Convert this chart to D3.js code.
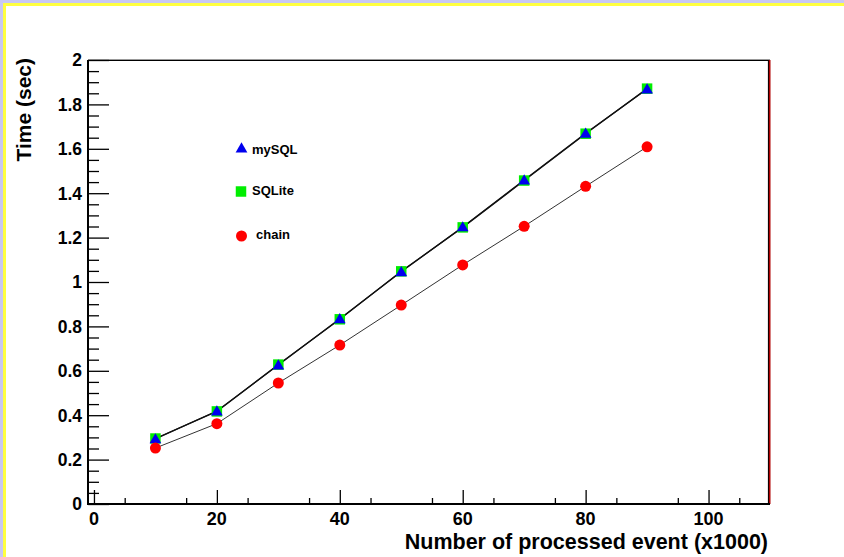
<!DOCTYPE html>
<html>
<head>
<meta charset="utf-8">
<script src="https://cdn.jsdelivr.net/npm/d3@7"></script>
<style>
html,body{margin:0;padding:0;background:#fff;}
svg{display:block;}
text{font-family:"Liberation Sans",Arial,Helvetica,sans-serif;font-weight:bold;fill:#000;}
</style>
</head>
<body>
<svg id="chart" width="844" height="557"></svg>
<script>
// ---- data ----
const events = [10, 20, 30, 40, 50, 60, 70, 80, 90];
const mysqlTimes  = [0.293, 0.419, 0.626, 0.834, 1.046, 1.248, 1.459, 1.670, 1.869];
const sqliteTimes = [0.295, 0.417, 0.628, 0.832, 1.048, 1.246, 1.457, 1.668, 1.871];
const chainTimes  = [0.252, 0.362, 0.545, 0.716, 0.896, 1.077, 1.251, 1.431, 1.609];
const seriesNames = ["mySQL", "SQLite", "chain"];
const xMajorTicks = [0, 20, 40, 60, 80, 100];
const xTickLabels = ["0", "20", "40", "60", "80", "100"];
const yMajorTicks = [0, 0.2, 0.4, 0.6, 0.8, 1, 1.2, 1.4, 1.6, 1.8, 2];
const yTickLabels = ["0", "0.2", "0.4", "0.6", "0.8", "1", "1.2", "1.4", "1.6", "1.8", "2"];
const xTitle = "Number of processed event (x1000)";
const yTitle = "Time (sec)";

(function(){
const svg = d3.select("#chart");
const W = 844, H = 557;

// canvas border (lavender + yellow)
svg.append("rect").attr("x",0).attr("y",0).attr("width",W).attr("height",3).attr("fill","#c8c8f4");
svg.append("rect").attr("x",0).attr("y",0).attr("width",3).attr("height",H).attr("fill","#c8c8f4");
svg.append("rect").attr("x",3).attr("y",3).attr("width",W-3).attr("height",3).attr("fill","#ffff40");
svg.append("rect").attr("x",3).attr("y",3).attr("width",3).attr("height",H-3).attr("fill","#ffff40");

const pL = 88, pR = 770, pT = 60, pB = 504;
const x = d3.scaleLinear().domain([-0.97, 110]).range([pL, pR]);
const y = d3.scaleLinear().domain([0, 2]).range([pB, pT]);

// frame top and right
svg.append("line").attr("x1",pL).attr("x2",pR).attr("y1",pT-0.5).attr("y2",pT-0.5).attr("stroke","#999").attr("stroke-width",1);
svg.append("line").attr("x1",pL).attr("x2",pR).attr("y1",pT+0.5).attr("y2",pT+0.5).attr("stroke","#000").attr("stroke-width",1);
svg.append("line").attr("x1",pR-1.5).attr("x2",pR-1.5).attr("y1",pT).attr("y2",pB).attr("stroke","#000").attr("stroke-width",1.2);
svg.append("line").attr("x1",pR-0.3).attr("x2",pR-0.3).attr("y1",pT).attr("y2",pB).attr("stroke","#b00000").attr("stroke-width",1.6);

// y axis
const yMinor = d3.range(0, 2.0001, 0.05).filter(v => Math.abs(Math.round(v*5)-v*5) > 1e-6);
const yAxisMajor = d3.axisRight(y).tickValues(yMajorTicks).tickSize(21).tickFormat("");
const yAxisMinor = d3.axisRight(y).tickValues(yMinor).tickSize(11).tickFormat("");
const gy1 = svg.append("g").attr("transform",`translate(${pL},0)`).call(yAxisMajor);
const gy2 = svg.append("g").attr("transform",`translate(${pL},0)`).call(yAxisMinor);
[gy1, gy2].forEach(g => { g.select(".domain").remove(); g.selectAll("line").attr("stroke","#000").attr("stroke-width",1.3); });
svg.selectAll(".ylab").data(yMajorTicks).enter().append("text")
  .attr("x", 82).attr("y", d => y(d)).attr("dy","0.36em")
  .attr("text-anchor","end").attr("font-size","17.5px")
  .text((d,i) => yTickLabels[i]);

// x axis
const xMinor = d3.range(5, 110, 10);
const xAxisMajor = d3.axisTop(x).tickValues(xMajorTicks).tickSize(14).tickFormat("");
const xAxisMinor = d3.axisTop(x).tickValues(xMinor).tickSize(6).tickFormat("");
const gx1 = svg.append("g").attr("transform",`translate(0,${pB})`).call(xAxisMajor);
const gx2 = svg.append("g").attr("transform",`translate(0,${pB})`).call(xAxisMinor);
[gx1, gx2].forEach(g => { g.select(".domain").remove(); g.selectAll("line").attr("stroke","#000").attr("stroke-width",1.3); });
svg.selectAll(".xlab").data(xMajorTicks).enter().append("text")
  .attr("x", d => x(d)).attr("y", 525)
  .attr("text-anchor","middle").attr("font-size","18px")
  .text((d,i) => xTickLabels[i]);

// axis lines
svg.append("line").attr("x1",pL).attr("x2",pL).attr("y1",pT).attr("y2",pB+1).attr("stroke","#000").attr("stroke-width",2);
svg.append("line").attr("x1",pL-1).attr("x2",pR).attr("y1",pB).attr("y2",pB).attr("stroke","#000").attr("stroke-width",2.2);

// titles
svg.append("text").attr("x",768).attr("y",548.5).attr("text-anchor","end").attr("font-size","21.5px").text(xTitle);
svg.append("text").attr("transform","translate(31,58) rotate(-90)").attr("text-anchor","end").attr("font-size","21px").text(yTitle);

// lines
const line = vals => d3.line().x((d,i)=>x(events[i])).y(d=>y(d))(vals);
svg.append("path").attr("d", line(chainTimes)).attr("fill","none").attr("stroke","#333").attr("stroke-width",1);
svg.append("path").attr("d", line(sqliteTimes)).attr("fill","none").attr("stroke","#111").attr("stroke-width",1.3);
svg.append("path").attr("d", line(mysqlTimes)).attr("fill","none").attr("stroke","#111").attr("stroke-width",1.3);

// markers
const sq = d3.symbol().type(d3.symbolSquare).size(110);
const tri = d3.symbol().type(d3.symbolTriangle).size(60);
const circ = d3.symbol().type(d3.symbolCircle).size(95);
svg.selectAll(".sq").data(sqliteTimes).enter().append("path")
  .attr("d", sq).attr("fill","#00ee00")
  .attr("transform",(d,i)=>`translate(${x(events[i])},${y(d)})`);
svg.selectAll(".tri").data(mysqlTimes).enter().append("path")
  .attr("d", tri).attr("fill","#0000ee")
  .attr("transform",(d,i)=>`translate(${x(events[i])},${y(d)+1})`);
svg.selectAll(".circ").data(chainTimes).enter().append("path")
  .attr("d", circ).attr("fill","#ff0000")
  .attr("transform",(d,i)=>`translate(${x(events[i])},${y(d)})`);

// legend
const legend = [
  {name: seriesNames[0], sym: tri, color:"#0000ee", mx:241.5, my:149, tx:252, ty:149},
  {name: seriesNames[1], sym: sq, color:"#00ee00", mx:241, my:191.5, tx:252, ty:190},
  {name: seriesNames[2], sym: circ, color:"#ff0000", mx:241.5, my:236, tx:256, ty:234}
];
legend.forEach(l => {
  svg.append("path").attr("d", l.sym).attr("fill", l.color).attr("transform",`translate(${l.mx},${l.my})`);
  svg.append("text").attr("x", l.tx).attr("y", l.ty).attr("dy","0.36em").attr("font-size","13px").text(l.name);
});
})();
</script>
</body>
</html>
